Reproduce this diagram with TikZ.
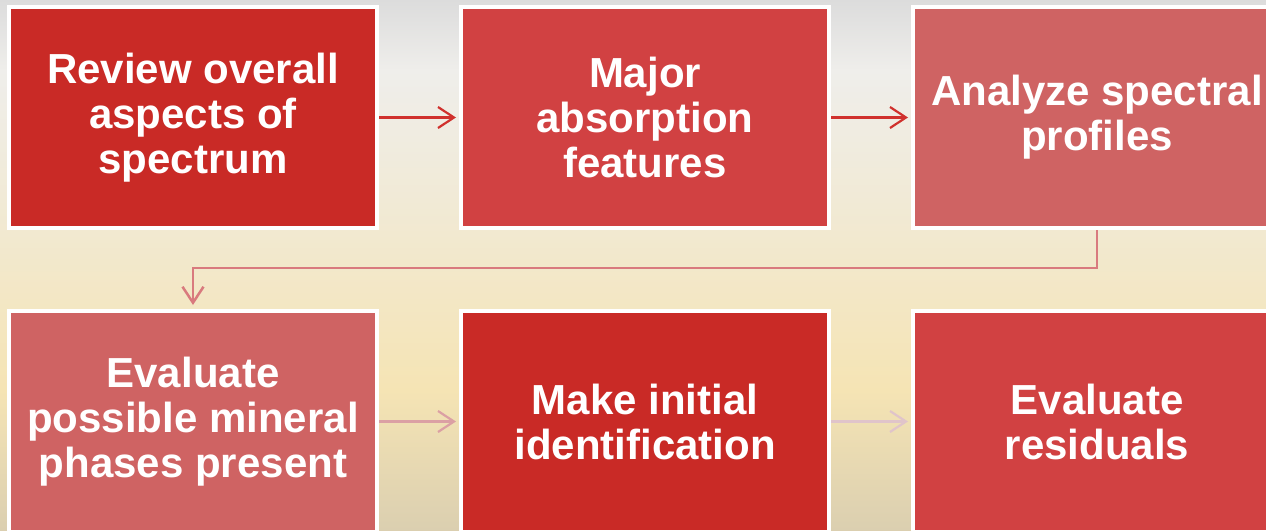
\documentclass[tikz,border=0pt]{standalone}
\usepackage{fontspec}
\setmainfont{Liberation Sans}
\usetikzlibrary{arrows.meta}

\definecolor{deepred}{HTML}{C92A26}
\definecolor{midred}{HTML}{D14142}
\definecolor{rosered}{HTML}{CF6363}
\definecolor{arrowA}{HTML}{D0312D}
\definecolor{arrowB}{HTML}{D97A7E}
\definecolor{arrowC}{HTML}{DBA0A4}
\definecolor{arrowD}{HTML}{E0C4CA}
\definecolor{bgA}{HTML}{DCDCDC}
\definecolor{bgB}{HTML}{EFEEEB}
\definecolor{bgC}{HTML}{F1EAD6}
\definecolor{bgD}{HTML}{F5E4B4}
\definecolor{bgE}{HTML}{DBCFB0}

\tikzset{
  stepbox/.style={draw=white, line width=4pt, minimum width=368pt,
    minimum height=221pt, inner sep=0pt, align=center, text=white,
    font=\fontsize{42}{45}\selectfont\bfseries},
  flowarrow/.style={line width=2.2pt, -{Straight Barb[length=16pt,width=21pt]},
    shorten >=3pt},
}

\begin{document}
\begin{tikzpicture}[x=1pt, y=-1pt]
  \useasboundingbox (0,0) rectangle (1266,530);
  \clip (0,0) rectangle (1266,530);

  % backdrop: grey at the top, warm cream in the middle, beige at the bottom
  \shade[top color=bgA, bottom color=bgB] (0,0) rectangle (1266,70.5);
  \shade[top color=bgB, bottom color=bgC] (0,70) rectangle (1266,200.5);
  \shade[top color=bgC, bottom color=bgD] (0,200) rectangle (1266,390.5);
  \shade[top color=bgD, bottom color=bgE] (0,390) rectangle (1266,530);

  % top row
  \node[stepbox, fill=deepred] (b1) at (193,117.5) {Review overall\\aspects of\\spectrum};
  \node[stepbox, fill=midred]  (b2) at (645,117.5) {Major\\absorption\\features};
  \node[stepbox, fill=rosered] (b3) at (1097,117.5) {Analyze spectral\\profiles};

  % bottom row
  \node[stepbox, fill=rosered] (b4) at (193,421.5) {Evaluate\\possible mineral\\phases present};
  \node[stepbox, fill=deepred] (b5) at (645,421.5) {Make initial\\identification};
  \node[stepbox, fill=midred]  (b6) at (1097,421.5) {Evaluate\\residuals};

  % connectors
  \draw[flowarrow, arrowA] (b1.east) -- (b2.west);
  \draw[flowarrow, arrowA] (b2.east) -- (b3.west);

  \coordinate (turn) at (0,268);
  \draw[flowarrow, arrowB, line width=2.5pt, shorten >=4pt]
    (b3.south) |- (turn -| b4.north) -- (b4.north);

  \draw[flowarrow, arrowC] (b4.east) -- (b5.west);
  \draw[flowarrow, arrowD] (b5.east) -- (b6.west);
\end{tikzpicture}
\end{document}
